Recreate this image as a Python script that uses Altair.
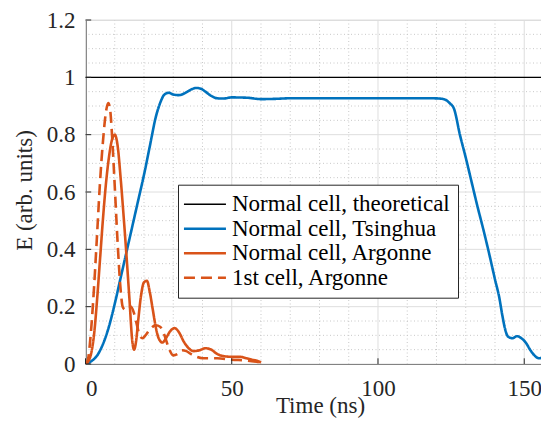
import altair as alt
import pandas as pd

SERIES = ["Normal cell, theoretical", "Normal cell, Tsinghua",
          "Normal cell, Argonne", "1st cell, Argonne"]
COLORS = ["#000000", "#0072BD", "#D95319", "#D95319"]
DASHES = [[1, 0], [1, 0], [1, 0], [11, 6]]
WIDTHS = [1.4, 2.6, 2.6, 2.6]

theo_t = [0, 160]
theo_e = [1.0, 1.0]

tsing_t = [0, 2, 4, 6, 8, 10, 12, 14, 16, 18, 20, 22, 24, 25.5, 27, 28.5,
           30, 32, 34, 36, 38, 39.5, 41, 43, 45, 47, 50, 55, 60, 65, 70, 80,
           90, 100, 110, 118, 121, 123, 124.5, 126, 128, 130, 132, 134, 136,
           138, 140, 141.5, 142.5, 143.5, 144.5, 146, 147.5, 149, 150.5, 152,
           153.5, 155, 156.5, 158.5]
tsing_e = [0, 0.01, 0.03, 0.07, 0.13, 0.21, 0.3, 0.39, 0.48, 0.57, 0.66,
           0.76, 0.86, 0.91, 0.94, 0.946, 0.94, 0.938, 0.945, 0.957, 0.963,
           0.96, 0.95, 0.935, 0.927, 0.926, 0.93, 0.929, 0.924, 0.925, 0.927,
           0.927, 0.927, 0.927, 0.927, 0.927, 0.926, 0.922, 0.91, 0.89, 0.8,
           0.72, 0.635, 0.55, 0.47, 0.385, 0.295, 0.23, 0.17, 0.12, 0.095,
           0.09, 0.097, 0.09, 0.075, 0.05, 0.03, 0.02, 0.025, 0.035]

arg_t = [0, 1, 2, 3, 4, 5, 6, 7, 8, 9, 10, 11, 12, 13, 14, 15, 16, 16.6,
         17.3, 18, 19, 20, 21, 22, 23, 24, 25, 26.3, 27.5, 29, 30.5, 32, 33.5,
         35, 37, 39, 41, 43, 45, 47, 50, 53, 55, 57, 59, 60]
arg_e = [0, 0.01, 0.04, 0.11, 0.23, 0.37, 0.51, 0.63, 0.72, 0.78, 0.80, 0.76,
         0.65, 0.52, 0.38, 0.23, 0.08, 0.05, 0.08, 0.15, 0.24, 0.285, 0.29,
         0.25, 0.19, 0.13, 0.09, 0.075, 0.09, 0.115, 0.125, 0.11, 0.08, 0.058,
         0.045, 0.048, 0.055, 0.05, 0.035, 0.028, 0.025, 0.025, 0.02, 0.015,
         0.01, 0.005]

first_t = [0, 0.5, 1, 1.5, 2, 3, 4, 5, 6, 7, 7.8, 8.5, 9, 10, 11, 12, 12.7,
           13.5, 14.5, 15.5, 16.5, 17.5, 18.5, 19.5, 20.5, 22, 24, 25.5, 27,
           28.5, 30, 31.5, 33, 34.5, 36, 38, 40, 45, 50, 55, 60]
first_e = [0, 0.005, 0.025, 0.07, 0.13, 0.28, 0.46, 0.64, 0.78, 0.88, 0.91,
           0.88, 0.81, 0.62, 0.42, 0.26, 0.2, 0.19, 0.2, 0.2, 0.18, 0.14, 0.1,
           0.09, 0.1, 0.12, 0.135, 0.13, 0.1, 0.055, 0.03, 0.035, 0.048, 0.045,
           0.035, 0.025, 0.02, 0.02, 0.015, 0.012, 0.005]

x_major = [0, 50, 100, 150]
x_minor = [10, 20, 30, 40, 60, 70, 80, 90, 110, 120, 130, 140]
y_major = [0, 0.2, 0.4, 0.6, 0.8, 1.0, 1.2]
y_minor = [0.05, 0.1, 0.15, 0.25, 0.3, 0.35, 0.45, 0.5, 0.55, 0.65, 0.7,
           0.75, 0.85, 0.9, 0.95, 1.05, 1.1, 1.15]

rows = []
for k, (name, ts, es) in enumerate(zip(SERIES, [theo_t, tsing_t, arg_t, first_t],
                                       [theo_e, tsing_e, arg_e, first_e])):
    for i, (t, e) in enumerate(zip(ts, es)):
        rows.append({"series": name, "t": t, "E": e, "i": i, "w": WIDTHS[k]})
df = pd.DataFrame(rows)

W, H = 455.5, 344
XMAX = 155.73
FONT = "'Liberation Serif', 'Times New Roman', 'DejaVu Serif', serif"
xs = alt.Scale(domain=[0, XMAX], nice=False, zero=False)
ys = alt.Scale(domain=[0, 1.2], nice=False)

X_AX = alt.Axis(
    values=x_major, format="d", title="Time (ns)", grid=False,
    ticks=False, labelFont=FONT, labelFontSize=23, labelColor="#262626",
    labelPadding=13, domainColor="#262626", titleFont=FONT,
    titleFontSize=23, titleFontWeight="normal", titleColor="#262626",
    titleBaseline="alphabetic", titleY=48, titleX=234.5)
Y_AX = alt.Axis(
    values=y_major, format="~g", title="E (arb. units)", grid=False,
    ticks=False, labelFont=FONT, labelFontSize=23, labelColor="#262626",
    labelPadding=10.5, domainColor="#262626", titleFont=FONT,
    titleFontSize=23, titleFontWeight="normal", titleColor="#262626",
    titleAngle=270, titleBaseline="alphabetic", titleX=-54, titleY=170)


def xq(f):
    return alt.X(f, type="quantitative", scale=xs, axis=X_AX)


def yq(f):
    return alt.Y(f, type="quantitative", scale=ys, axis=Y_AX)


gx_minor = alt.Chart(pd.DataFrame({"v": x_minor})).mark_rule(
    color="#c8c8c8", strokeDash=[1, 2.5], strokeWidth=1).encode(x=xq("v"))
gy_minor = alt.Chart(pd.DataFrame({"v": y_minor})).mark_rule(
    color="#c8c8c8", strokeDash=[1, 2.5], strokeWidth=1).encode(y=yq("v"))
gx_major = alt.Chart(pd.DataFrame({"v": x_major})).mark_rule(
    color="#dedede", strokeWidth=1).encode(x=xq("v"))
gy_major = alt.Chart(pd.DataFrame({"v": y_major})).mark_rule(
    color="#dedede", strokeWidth=1).encode(y=yq("v"))

legend = alt.Legend(
    orient="none", legendX=92.5, legendY=164.7, title=None,
    symbolType="M-1.29,0H2.71", symbolSize=441,
    symbolStrokeWidth={"expr": "datum.value == 'Normal cell, theoretical' ? 1.4 : 2.6"},
    labelFont=FONT, labelFontSize=23,
    labelColor="#000000", labelLimit=400, labelOffset=23, padding=8,
    rowPadding=0.5, fillColor="white", strokeColor="#262626",
    cornerRadius=0)

lines = alt.Chart(df).mark_line(interpolate="monotone", clip=True).encode(
    x=xq("t"),
    y=yq("E"),
    color=alt.Color("series:N", sort=SERIES,
                    scale=alt.Scale(domain=SERIES, range=COLORS), legend=legend),
    strokeDash=alt.StrokeDash("series:N", sort=SERIES,
                              scale=alt.Scale(domain=SERIES, range=DASHES),
                              legend=legend),
    strokeWidth=alt.StrokeWidth("w:Q", scale=None, legend=None),
    order="i:Q",
)

tick_x = alt.Chart(pd.DataFrame({"v": x_major})).mark_rule(
    color="#262626", strokeWidth=1).encode(
    x=xq("v"), y=alt.value(H), y2=alt.value(H - 5.7))
tick_y = alt.Chart(pd.DataFrame({"v": y_major})).mark_rule(
    color="#262626", strokeWidth=1).encode(
    y=yq("v"), x=alt.value(0), x2=alt.value(5.7))

chart = alt.layer(gx_minor, gy_minor, gx_major, gy_major, lines, tick_x,
                  tick_y).properties(
    width=W, height=H,
    autosize=alt.AutoSizeParams(type="none"),
    padding={"left": 77.5, "top": 12, "right": 0, "bottom": 54},
).configure_view(stroke=None).configure(background="white", font=FONT)

chart.save("out.html", embed_options={"renderer": "svg", "actions": False})
